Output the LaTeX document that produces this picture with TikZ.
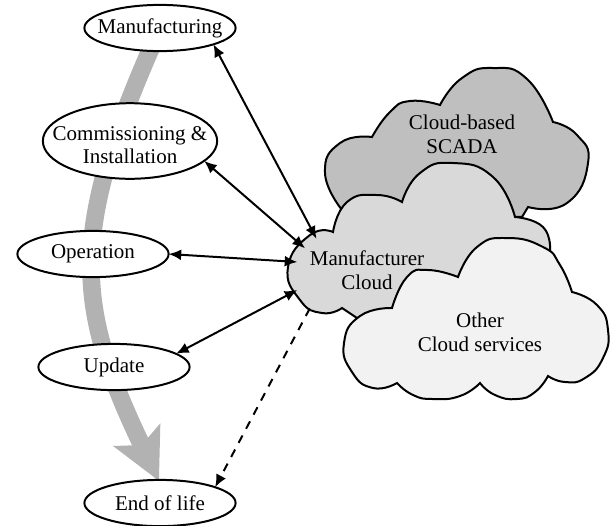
\documentclass[tikz,border=0pt]{standalone}
\usepackage{fontspec}
\setmainfont{Liberation Serif}
\usetikzlibrary{arrows.meta,shapes.geometric}
\definecolor{cloudDark}{gray}{0.75}
\definecolor{cloudMid}{gray}{0.85}
\definecolor{cloudLight}{gray}{0.95}
\tikzset{
  stage/.style={ellipse,draw,line width=0.95pt,fill=white,inner xsep=-12pt,inner ysep=-6pt,outer sep=0pt,align=center,
    font=\fontsize{10}{11}\selectfont,minimum width=72pt,minimum height=22pt},
  cloudpart/.style={draw,line width=0.95pt,line join=miter},
  lobe/.style={smooth,tension=0.9},
  cloudtext/.style={align=center,font=\fontsize{10}{11.3}\selectfont},
  port/.style={circle,inner sep=0pt,outer sep=0pt,minimum size=41pt},
  link/.style={line width=0.95pt,>={Latex[length=6pt,width=5.2pt]}},
  lifecycle/.style={line width=8.4pt,draw=black!30,
    -{Stealth[length=24pt,width=24pt,inset=5pt]}}
}
\begin{document}
\begin{tikzpicture}[x=0.4762pt,y=-0.4762pt]
    \useasboundingbox (0,0) rectangle (610,525);
    \coordinate (mfgc) at (160,28);
    \coordinate (eoln) at (159,481);
    \draw[lifecycle] (mfgc) .. controls (70,228) and (72,300) .. (eoln);
    \node[stage] (mfg) at (mfgc) {Manufacturing};
    \node[stage,minimum width=83pt,minimum height=36pt] (cmn) at (130,141) {\rule{0pt}{10.5pt}Commissioning \&\\Installation};
    \node[stage] (opr) at (93,254) {Operation};
    \node[stage] (upd) at (114,367) {Update};
    \node[stage] (eol) at (160,503) {End of life};
    \draw[cloudpart,fill=cloudDark]
      plot[lobe] coordinates {(342,210) (325,173) (340,143) (372,137)}
      -- plot[lobe] coordinates {(372,137) (390,112) (410,101) (440,105)}
      -- plot[lobe] coordinates {(440,105) (462,78) (493,68) (527,79) (553,122)}
      -- plot[lobe] coordinates {(553,122) (577,135) (588,163) (567,203) (528,207)}
      -- (522,217) -- cycle;
    \draw[cloudpart,fill=cloudMid]
      plot[lobe] coordinates {(333,232) (310,235) (288,267) (300,300) (322,313) (342,308)}
      -- (357,318) -- (550,300)
      -- plot[lobe] coordinates {(550,252) (543,227) (515,217)}
      -- plot[lobe] coordinates {(515,217) (493,177) (453,163) (420,173) (402,202)}
      -- plot[lobe] coordinates {(402,202) (377,195) (347,202) (333,232)} -- cycle;
    \draw[cloudpart,fill=cloudLight]
      plot[lobe] coordinates {(392,308) (360,316) (344,343) (352,372) (373,388) (397,383)}
      -- plot[lobe] coordinates {(397,383) (413,395) (433,399) (460,396) (480,383)}
      -- plot[lobe] coordinates {(480,383) (495,395) (517,399) (535,392) (548,376)}
      -- plot[lobe] coordinates {(548,376) (565,382) (585,378) (603,358) (608,330) (597,305) (572,292)}
      -- plot[lobe] coordinates {(572,292) (560,265) (543,247) (507,238) (477,247) (458,277)}
      -- plot[lobe] coordinates {(458,277) (428,270) (407,277) (392,308)} -- cycle;
    \node[cloudtext] (scada) at (462,134) {Cloud-based\\SCADA};
    \node[cloudtext] (mfrcloud) at (367,270) {Manufacturer\\Cloud};
    \node[cloudtext] (other) at (480,332) {Other\\Cloud services};
    \node[port] (mfrport) at (338,276) {};
    \draw[link,<->] (mfg.-17) -- (mfrport.120);
    \draw[link,<->] (cmn.-15) -- (mfrport.140);
    \draw[link,<->] (opr.east) -- (mfrport.161);
    \draw[link,<->] (upd.12) -- (mfrport.199);
    \draw[link,->,dash pattern=on 4pt off 3.6pt] (mfrport.229) -- (eol.16);
  \end{tikzpicture}
\end{document}
